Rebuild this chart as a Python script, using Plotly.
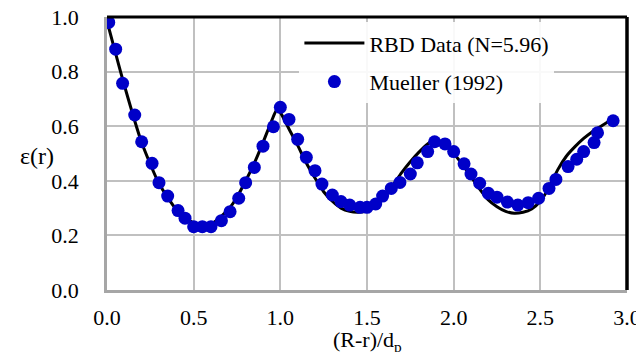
import plotly.graph_objects as go

# RBD Data (N=5.96) line
rbd_x = [0.0, 0.1, 0.2, 0.3, 0.4, 0.5, 0.55, 0.6, 0.65, 0.7, 0.75, 0.8, 0.85, 0.9, 0.95, 0.98,
         1.0, 1.05, 1.1, 1.15, 1.2, 1.25, 1.3, 1.35, 1.4, 1.45, 1.5, 1.55, 1.6, 1.65, 1.7, 1.75,
         1.8, 1.85, 1.89, 1.93, 2.0, 2.05, 2.1, 2.15, 2.2, 2.25, 2.3, 2.35, 2.4, 2.45, 2.5, 2.55,
         2.6, 2.65, 2.7, 2.75, 2.8, 2.85, 2.9]
rbd_y = [0.985, 0.75, 0.54, 0.39, 0.295, 0.245, 0.235, 0.24, 0.265, 0.295, 0.34, 0.40, 0.465, 0.54, 0.62, 0.66,
         0.65, 0.59, 0.53, 0.465, 0.41, 0.36, 0.325, 0.30, 0.288, 0.285, 0.29, 0.31, 0.345, 0.385, 0.43, 0.47,
         0.505, 0.535, 0.55, 0.54, 0.50, 0.46, 0.415, 0.37, 0.33, 0.305, 0.288, 0.281, 0.285, 0.297, 0.325, 0.375,
         0.44, 0.49, 0.525, 0.555, 0.58, 0.60, 0.62]

# Mueller (1992) points
mueller_x = [0.01, 0.05, 0.09, 0.16, 0.20, 0.26, 0.30, 0.35, 0.41, 0.45, 0.50, 0.55, 0.60, 0.66, 0.71,
             0.76, 0.80, 0.85, 0.90, 0.96, 1.00, 1.05, 1.10, 1.15, 1.20, 1.24, 1.30, 1.35, 1.40, 1.46,
             1.50, 1.55, 1.59, 1.64, 1.69, 1.75, 1.79, 1.85, 1.89, 1.95, 2.00, 2.06, 2.10, 2.15, 2.20,
             2.25, 2.31, 2.37, 2.43, 2.49, 2.55, 2.59, 2.66, 2.71, 2.75, 2.81, 2.83, 2.92]
mueller_y = [0.98, 0.882, 0.757, 0.641, 0.543, 0.464, 0.393, 0.344, 0.291, 0.263, 0.232, 0.232, 0.232, 0.254, 0.287,
             0.336, 0.393, 0.449, 0.527, 0.598, 0.669, 0.625, 0.552, 0.486, 0.437, 0.388, 0.348, 0.324, 0.311, 0.303,
             0.303, 0.315, 0.344, 0.372, 0.394, 0.425, 0.466, 0.507, 0.543, 0.535, 0.507, 0.462, 0.425, 0.391, 0.354,
             0.340, 0.322, 0.311, 0.320, 0.336, 0.372, 0.405, 0.452, 0.479, 0.507, 0.540, 0.576, 0.620]

x_ticks = [0.0, 0.5, 1.0, 1.5, 2.0, 2.5, 3.0]
y_ticks = [0.0, 0.2, 0.4, 0.6, 0.8, 1.0]

FONT = "Liberation Serif, Times New Roman, serif"

fig = go.Figure()
fig.add_trace(go.Scatter(x=rbd_x, y=rbd_y, mode="lines", name="RBD Data (N=5.96)",
                         line=dict(color="black", width=3, shape="spline", smoothing=0.6),
                         legendgroup="a"))
fig.add_trace(go.Scatter(x=mueller_x, y=mueller_y, mode="markers", name="Mueller (1992)",
                         marker=dict(color="#0000c8", size=13, line=dict(width=0)),
                         legendgroup="b"))

# the page body adds an 8px offset, so the figure is 8px smaller than the window
fig.update_layout(
    width=636, height=344,
    margin=dict(l=99, r=17, t=9, b=62, autoexpand=False),
    paper_bgcolor="white", plot_bgcolor="white",
    font=dict(family=FONT, size=22, color="black"),
    showlegend=True,
    legend=dict(x=0.37, y=0.981, xanchor="left", yanchor="top",
                bgcolor="rgba(255,255,255,0.9)", font=dict(family=FONT, size=22),
                itemwidth=60, tracegroupgap=7, traceorder="grouped"),
    xaxis=dict(range=[0, 3.0], tickvals=x_ticks, ticktext=[f"{v:.1f}" for v in x_ticks],
               showgrid=True, gridcolor="#c0c0c0", gridwidth=2,
               showline=True, linecolor="#a6a6a6", linewidth=2.5, automargin=False,
               ticklabeloverflow="allow",
               zeroline=False, ticks="outside", ticklen=6, tickcolor="rgba(0,0,0,0)"),
    yaxis=dict(range=[0, 1.0], tickvals=y_ticks, ticktext=[f"{v:.1f}" for v in y_ticks],
               showgrid=True, gridcolor="#c0c0c0", gridwidth=2,
               showline=True, linecolor="#a6a6a6", linewidth=2.5, automargin=False,
               ticklabeloverflow="allow",
               zeroline=False, ticks="outside", ticklen=21, tickcolor="rgba(0,0,0,0)"),
    shapes=[
        dict(type="line", xref="paper", yref="paper", x0=0, x1=1, y0=1, y1=1,
             line=dict(color="black", width=3), layer="above"),
        dict(type="line", xref="paper", yref="paper", x0=1, x1=1, y0=0, y1=1,
             line=dict(color="black", width=3.5), layer="above"),
    ],
    annotations=[
        dict(text="ε(r)", xref="paper", yref="paper", x=-0.098, y=0.49,
             xanchor="right", yanchor="middle", showarrow=False,
             font=dict(family=FONT, size=24)),
        dict(text="(R-r)/d<sub>p</sub>", xref="paper", yref="paper", x=0.5, y=-0.185,
             xanchor="center", yanchor="middle", showarrow=False,
             font=dict(family=FONT, size=22)),
    ],
)

fig.write_html("out.html")
